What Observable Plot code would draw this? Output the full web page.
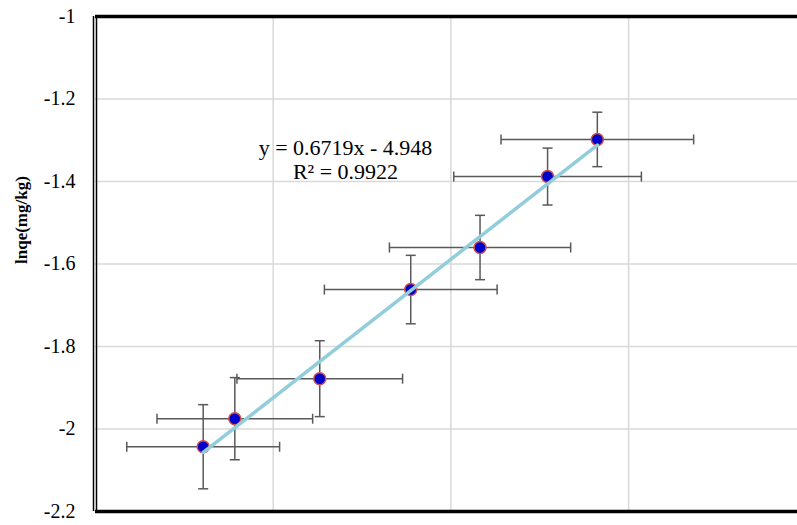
<!DOCTYPE html>
<html>
<head>
<meta charset="utf-8">
<script src="https://cdn.jsdelivr.net/npm/d3@7"></script>
<script src="https://cdn.jsdelivr.net/npm/@observablehq/plot@0.6"></script>
<style>
  html, body { margin: 0; padding: 0; background: #fff; }
  #chart svg { display: block; }
</style>
</head>
<body>
<div id="chart"></div>
<script>
// Data
const xValues = [4.303, 4.392, 4.631, 4.887, 5.082, 5.272, 5.412];
const yValues = [-2.043, -1.975, -1.878, -1.662, -1.560, -1.388, -1.298];
const xErrors = [0.215, 0.219, 0.233, 0.243, 0.255, 0.264, 0.271];
const yErrors = [0.102, 0.0996, 0.092, 0.083, 0.078, 0.069, 0.066];
const yTicks = [-1, -1.2, -1.4, -1.6, -1.8, -2, -2.2];
const xGrid = [4.5, 5, 5.5];
const slope = 0.6719, intercept = -4.948;
const eqLabel = "y = 0.6719x - 4.948";
const r2Label = "R² = 0.9922";
const yLabel = "lnqe(mg/kg)";

const points = xValues.map((x, i) => ({x, y: yValues[i], ex: xErrors[i], ey: yErrors[i]}));
const xMin = d3.min(xValues), xMax = d3.max(xValues);
const trend = [xMin, xMax].map(x => ({x, y: slope * x + intercept}));

const vbar = {draw(ctx, size) { const h = Math.sqrt(size / Math.PI); ctx.moveTo(0, -h); ctx.lineTo(0, h); }};
const hbar = {draw(ctx, size) { const h = Math.sqrt(size / Math.PI); ctx.moveTo(-h, 0); ctx.lineTo(h, 0); }};

const errColor = "#595959";
const font = "'Liberation Serif', 'Times New Roman', serif";

const chart = Plot.plot({
  width: 797,
  height: 525,
  marginLeft: 95,
  marginRight: 0,
  marginTop: 16,
  marginBottom: 14,
  style: {fontFamily: font, fontSize: "20px", color: "#000", background: "#fff"},
  x: {domain: [4, 4 + 702 / 355.4], axis: null},
  y: {domain: [-2.2, -1], ticks: yTicks, label: null},
  marks: [
    Plot.ruleY(yTicks.slice(1, -1), {stroke: "#d9d9d9", strokeWidth: 1.5}),
    Plot.ruleX(xGrid, {stroke: "#d9d9d9", strokeWidth: 1.5}),
    Plot.axisY({
      ticks: yTicks, tickSize: 0, tickPadding: 20,
      tickFormat: d => String(+d.toFixed(1)),
      fontSize: 20, label: null
    }),
    Plot.text([yLabel], {
      frameAnchor: "left", dx: -74, dy: 0, rotate: -90,
      fontWeight: "bold", fontSize: 17, fill: "#000"
    }),
    // frame
    Plot.ruleY([-1], {stroke: "#000", strokeWidth: 3.5}),
    Plot.ruleY([-2.2], {stroke: "#000", strokeWidth: 3.5}),
    Plot.ruleX([4], {stroke: "#000", strokeWidth: 1.5, dx: -2}),
    Plot.ruleX([4], {stroke: "#000", strokeWidth: 1.5, dx: 1}),
    // error bars
    Plot.link(points, {x1: d => d.x - d.ex, x2: d => d.x + d.ex, y1: "y", y2: "y", stroke: errColor, strokeWidth: 1.5}),
    Plot.link(points, {x1: "x", x2: "x", y1: d => d.y - d.ey, y2: d => d.y + d.ey, stroke: errColor, strokeWidth: 1.5}),
    Plot.dot(points, {x: d => d.x - d.ex, y: "y", symbol: vbar, r: 5, stroke: errColor, strokeWidth: 1.5, fill: "none"}),
    Plot.dot(points, {x: d => d.x + d.ex, y: "y", symbol: vbar, r: 5, stroke: errColor, strokeWidth: 1.5, fill: "none"}),
    Plot.dot(points, {x: "x", y: d => d.y - d.ey, symbol: hbar, r: 5, stroke: errColor, strokeWidth: 1.5, fill: "none"}),
    Plot.dot(points, {x: "x", y: d => d.y + d.ey, symbol: hbar, r: 5, stroke: errColor, strokeWidth: 1.5, fill: "none"}),
    // points
    Plot.dot(points, {x: "x", y: "y", r: 6, fill: "#0000cc", stroke: "#d0504a", strokeWidth: 1.5}),
    // trendline
    Plot.line(trend, {x: "x", y: "y", stroke: "#92cddc", strokeWidth: 3.5}),
    // equation
    Plot.text([eqLabel], {frameAnchor: "top-left", dx: 250, dy: 123, textAnchor: "middle", fontSize: 22, fill: "#000"}),
    Plot.text([r2Label], {frameAnchor: "top-left", dx: 250, dy: 147, textAnchor: "middle", fontSize: 22, fill: "#000"})
  ]
});
document.getElementById("chart").appendChild(chart);
</script>
</body>
</html>
